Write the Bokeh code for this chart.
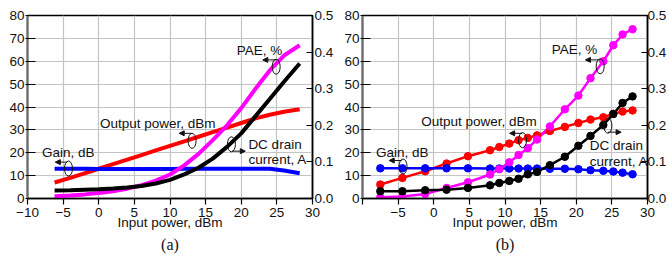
from bokeh.plotting import figure
from bokeh.models import Range1d, LinearAxis, FixedTicker, Label, Arrow, NormalHead
from bokeh.layouts import row
from bokeh.embed import file_html
from bokeh.resources import INLINE

# ---------------- data ----------------
# Panel (a): smooth simulated curves
pin_a = [-6.2, -4, -2, 0, 2, 4, 6, 8, 10, 12, 14, 16, 18, 20, 22, 24, 26, 28.2]
pout_a = [7, 9, 11, 13, 15, 17, 19, 21, 23, 25, 27, 29, 31, 33, 35, 36.6, 37.9, 39]
gain_a = [13, 13, 13, 12.9, 12.9, 12.9, 12.9, 12.9, 12.9, 13, 13, 13, 13, 13, 13, 13, 12.2, 11]
pae_a = [1, 1.3, 1.8, 2.4, 3.2, 4.3, 5.8, 7.8, 10.5, 14.5, 19.5, 25.5, 32, 39.5, 48, 56, 62.5, 67]
idc_a = [0.022, 0.0225, 0.024, 0.025, 0.027, 0.030, 0.034, 0.041, 0.051, 0.066, 0.084,
         0.109, 0.141, 0.178, 0.225, 0.272, 0.319, 0.369]

# Panel (b): measured points
pin_b = [-7.5, -4.4, -1.2, 1.8, 4.8, 7.9, 9.2, 10.6, 11.9, 13.2, 14.5, 16.3, 18.4, 20.3,
         22.0, 23.8, 25.2, 26.5, 27.9]
pout_b = [6.1, 9.0, 11.9, 15.3, 18.5, 21.1, 22.5, 24, 25.5, 26.5, 27.6, 29.5, 31.3, 33,
          34.5, 35.5, 37, 38, 38.5]
gain_b = [13.2, 13.2, 13.2, 13.2, 13.2, 13.1, 13.1, 13.1, 13.1, 13.1, 13.1, 13.0, 13.0, 12.8,
          12.4, 12.1, 11.8, 11.3, 10.6]
pae_b = [0.5, 0.9, 2.0, 4.6, 7.1, 10.5, 12.8, 15.8, 19.0, 22.0, 25.8, 31.5, 39.0, 45.0,
         52.6, 60.0, 67.0, 71.7, 74.0]
idc_b = [0.020, 0.020, 0.0225, 0.024, 0.029, 0.036, 0.0425, 0.048, 0.054, 0.066, 0.0725,
         0.091, 0.114, 0.144, 0.171, 0.201, 0.231, 0.261, 0.279]

x_ticks = [-10, -5, 0, 5, 10, 15, 20, 25, 30]
y_ticks = [0, 10, 20, 30, 40, 50, 60, 70, 80]
cur_ticks = [0.0, 0.1, 0.2, 0.3, 0.4, 0.5]
cur_tick_labels = ["0.0", "0.1", "0.2", "0.3", "0.4", "0.5"]
x_title = "Input power, dBm"

FONT = "Liberation Sans"
SERIF = "Liberation Serif"
TXT = "#111111"
FS = "13.5px"

# annotation layouts (data coords)
ann_a = dict(
    texts=[("PAE, %", 19.36, 64.7), ("Output power, dBm", 0.16, 33.0), ("DC drain", 21.0, 23.6),
           ("current, A", 21.0, 17.0), ("Gain, dB", -7.96, 19.9)],
    ells=[(24.9, 57.6), (13.1, 25.2), (18.62, 23.7), (-4.25, 13.1)],
    arrows=[(24.97, 60.6, 23.02, 60.6), (13.0, 28.5, 11.29, 28.5), (18.7, 20.7, 20.57, 20.7),
            (-4.48, 15.9, -6.1, 15.9)],
    cap="(a)",
)
ann_b = dict(
    texts=[("PAE, %", 16.57, 65.3), ("Output power, dBm", -1.76, 33.7), ("DC drain", 21.9, 23.2),
           ("current, A", 21.9, 16.2), ("Gain, dB", -8.1, 20.2)],
    ells=[(23.36, 57.8), (12.46, 25.5), (24.44, 31.8), (-4.31, 14.0)],
    arrows=[(23.29, 60.6, 21.29, 60.6), (12.4, 28.5, 10.65, 28.5), (24.44, 29.0, 26.3, 29.0),
            (-4.49, 16.6, -6.25, 16.6)],
    cap="(b)",
)


def make_panel(pin, pout, gain, pae, idc, markers, ann, width, mbl, mbr, rstand, hide_first):
    p = figure(width=width, height=257, output_backend="svg", toolbar_location=None,
               x_range=Range1d(-10, 30), y_range=Range1d(0, 80),
               min_border_left=mbl, min_border_right=mbr, min_border_top=15, min_border_bottom=59,
               title=ann["cap"], title_location="below")
    p.background_fill_color = "white"
    p.border_fill_color = "white"
    p.outline_line_color = "black"
    p.outline_line_width = 1.5
    p.extra_y_ranges = {"cur": Range1d(0, 0.5)}

    p.title.text_font = SERIF
    p.title.text_font_size = "16px"
    p.title.text_font_style = "normal"
    p.title.text_color = TXT
    p.title.align = "center"
    p.title.offset = 2
    p.title.standoff = 2

    # grid
    p.xgrid.ticker = FixedTicker(ticks=x_ticks)
    p.ygrid.ticker = FixedTicker(ticks=y_ticks)
    for g in (p.xgrid, p.ygrid):
        g.grid_line_color = "#c4c4c4"
        g.grid_line_width = 1.2

    # bottom axis
    xa = p.xaxis[0]
    xa.ticker = FixedTicker(ticks=x_ticks)
    if hide_first:
        xa.major_label_overrides = {-10: ""}
    xa.major_tick_out = 6
    xa.major_tick_in = 0
    xa.minor_tick_out = 0
    xa.minor_tick_in = 0
    xa.major_label_standoff = 3
    xa.axis_line_color = "black"
    xa.axis_line_width = 1.5
    xa.major_tick_line_color = "black"
    xa.major_tick_line_width = 1.2
    xa.axis_label = x_title
    xa.axis_label_standoff = -5
    xa.axis_label_text_font = FONT
    xa.axis_label_text_font_size = FS
    xa.axis_label_text_font_style = "normal"
    xa.axis_label_text_color = TXT

    # left axis
    ya = p.yaxis[0]
    ya.ticker = FixedTicker(ticks=y_ticks)
    ya.major_tick_out = 2
    ya.major_tick_in = 8
    ya.minor_tick_out = 0
    ya.minor_tick_in = 0
    ya.major_label_standoff = 1
    ya.axis_line_color = "#6f6f6f"
    ya.axis_line_width = 2
    ya.major_tick_line_color = "black"
    ya.major_tick_line_width = 1.2

    # right axis (current)
    ra = LinearAxis(y_range_name="cur", ticker=FixedTicker(ticks=cur_ticks))
    ra.major_label_overrides = dict(zip(cur_ticks, cur_tick_labels))
    ra.major_label_standoff = rstand
    ra.major_tick_out = 0
    ra.major_tick_in = 6
    ra.minor_tick_out = 0
    ra.minor_tick_in = 0
    ra.axis_line_color = "black"
    ra.axis_line_width = 1.5
    ra.major_tick_line_color = "black"
    ra.major_tick_line_width = 1.2
    p.add_layout(ra, "right")

    for ax in (xa, ya, ra):
        ax.major_label_text_font = FONT
        ax.major_label_text_font_size = FS
        ax.major_label_text_color = TXT

    lw = 2.5 if markers else 4
    p.line(pin, pout, line_color="#ff0000", line_width=lw)
    p.line(pin, gain, line_color="#0000ff", line_width=lw)
    p.line(pin, pae, line_color="#ff00ff", line_width=lw)
    p.line(pin, idc, line_color="black", line_width=lw, y_range_name="cur")
    if markers:
        p.scatter(pin, pout, size=7.5, color="#ff0000")
        p.scatter(pin, gain, size=7.5, color="#0000ff")
        p.scatter(pin, pae, size=7.5, color="#ff00ff")
        p.scatter(pin, idc, size=7.5, color="black", y_range_name="cur")

    # annotations
    for s, x, y in ann["texts"]:
        p.add_layout(Label(x=x, y=y, text=s, text_font=FONT, text_font_size=FS,
                           text_color=TXT, text_align="left", text_baseline="middle"))
    ex = [e[0] for e in ann["ells"]]
    ey = [e[1] for e in ann["ells"]]
    p.ellipse(x=ex, y=ey, width=8, height=15, width_units="screen", height_units="screen",
              fill_color=None, line_color="#111111", line_width=1)
    for x0, y0, x1, y1 in ann["arrows"]:
        p.add_layout(Arrow(x_start=x0, y_start=y0, x_end=x1, y_end=y1, line_color="#111111",
                           line_width=1,
                           end=NormalHead(size=5, fill_color="#111111", line_color="#111111",
                                          line_width=1)))
    return p


pa = make_panel(pin_a, pout_a, gain_a, pae_a, idc_a, False, ann_a, 336, 27, 22, 2, False)
pb = make_panel(pin_b, pout_b, gain_b, pae_b, idc_b, True, ann_b, 333, 26, 19, 0, True)

layout = row(pa, pb)
open("out.html", "w").write(file_html(layout, INLINE))
